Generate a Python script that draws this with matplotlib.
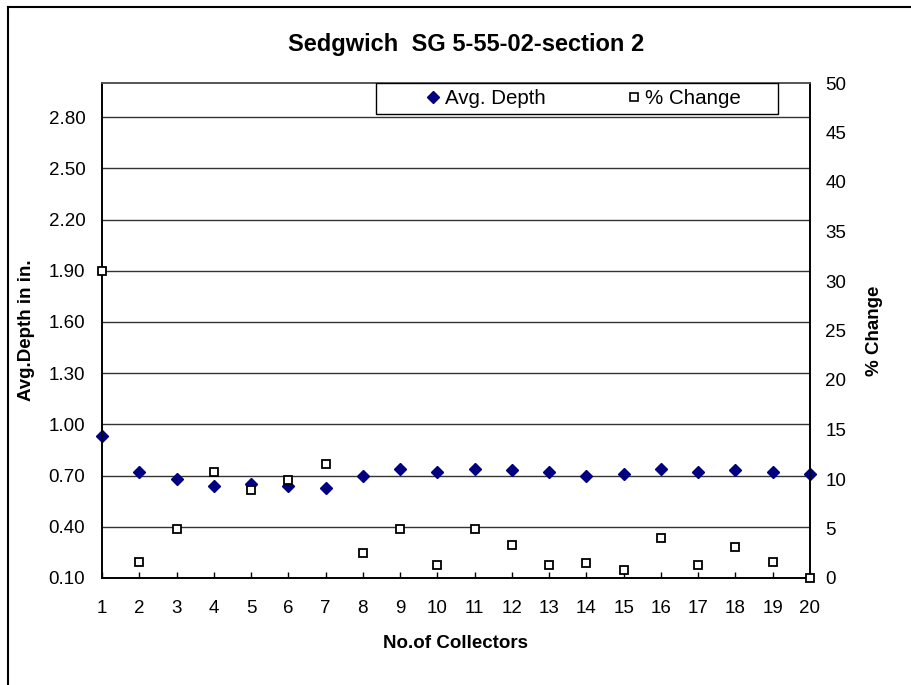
import numpy as np
import matplotlib
matplotlib.use("Agg")
import matplotlib.pyplot as plt
from matplotlib.lines import Line2D
from matplotlib.patches import Rectangle

plt.rcParams['font.family'] = ['Liberation Sans', 'DejaVu Sans']

# data
collectors = list(range(1, 21))
avg_depth = [0.93, 0.72, 0.68, 0.64, 0.65, 0.64, 0.63, 0.70, 0.74, 0.72,
             0.74, 0.73, 0.72, 0.70, 0.71, 0.74, 0.72, 0.73, 0.72, 0.71]
pct_change = [31.0, 1.6, 5.0, 10.7, 8.9, 9.9, 11.5, 2.5, 5.0, 1.3,
              5.0, 3.3, 1.3, 1.5, 0.8, 4.0, 1.3, 3.1, 1.6, 0.0]
left_ticks = [0.10, 0.40, 0.70, 1.00, 1.30, 1.60, 1.90, 2.20, 2.50, 2.80]
right_ticks = [0, 5, 10, 15, 20, 25, 30, 35, 40, 45, 50]

title = "Sedgwich  SG 5-55-02-section 2"

W, H = 912, 685
fig = plt.figure(figsize=(W / 100, H / 100), dpi=100)

# plot area in pixels: left 102, right 810, top 83, bottom 578
ax = fig.add_axes([102 / W, (H - 578) / H, (810 - 102) / W, (578 - 83) / H])
ax2 = ax.twinx()

fs = 13.5

# avg depth (left axis)
ax.plot(collectors, avg_depth, linestyle='none', marker='D', markersize=6,
        color='#000080', clip_on=False, zorder=3)
ax.set_xlim(1, 20)
ax.set_ylim(0.10, 3.00)
ax.set_yticks(left_ticks)
ax.set_yticklabels([f"{v:.2f}" for v in left_ticks], fontsize=fs)
ax.set_xticks(collectors)
ax.set_xticklabels([str(c) for c in collectors], fontsize=fs)
ax.yaxis.grid(True, color='#333333', linewidth=1.0)
ax.set_axisbelow(True)
ax.tick_params(axis='y', length=0, pad=12)
ax.tick_params(axis='x', direction='in', length=4.5, width=1, pad=16)
for s in ['left', 'bottom', 'right', 'top']:
    ax.spines[s].set_linewidth(1.2)
ax.spines['top'].set_color('#555555')

# % change (right axis)
ax2.plot(collectors, pct_change, linestyle='none', marker='s', markersize=6,
         markerfacecolor='white', markeredgecolor='black', markeredgewidth=1.3,
         clip_on=False, zorder=3)
ax2.set_ylim(0, 50)
ax2.set_yticks(right_ticks)
ax2.set_yticklabels([str(v) for v in right_ticks], fontsize=fs)
ax2.tick_params(axis='y', length=0, pad=11)
for s in ['left', 'bottom', 'right', 'top']:
    ax2.spines[s].set_linewidth(1.2)
ax2.spines['top'].set_color('#555555')

ax.set_xlabel("No.of Collectors", fontsize=fs, fontweight='bold', labelpad=13)
ax.set_ylabel("Avg.Depth in in.", fontsize=fs, fontweight='bold', labelpad=10)
ax2.set_ylabel("% Change", fontsize=fs, fontweight='bold', labelpad=14)
fig.text(466 / W, 1 - 45 / H, title, fontsize=17, fontweight='bold',
         ha='center', va='center')

# legend box
box = Rectangle((0.387, 0.937), 0.568, 0.063, transform=ax2.transAxes,
                facecolor='white', edgecolor='black', linewidth=1.0, zorder=4)
ax2.add_patch(box)
handles = [
    Line2D([], [], linestyle='none', marker='D', markersize=6, color='#000080'),
    Line2D([], [], linestyle='none', marker='s', markersize=5.5,
           markerfacecolor='white', markeredgecolor='black', markeredgewidth=1.2),
]
leg = ax2.legend(handles, ["Avg. Depth", "% Change"], ncol=2, frameon=False,
                 loc='center', bbox_to_anchor=(0.681, 0.9685), fontsize=14.8,
                 handlelength=0.6, handletextpad=0.25, columnspacing=4.0,
                 borderpad=0, borderaxespad=0)
leg.set_zorder(5)

# outer chart frame (cropped on right and bottom)
fig.add_artist(Line2D([8 / W, 8 / W], [0, 1 - 7 / H], transform=fig.transFigure,
                      color='black', linewidth=1.5))
fig.add_artist(Line2D([8 / W, 1], [1 - 7 / H, 1 - 7 / H], transform=fig.transFigure,
                      color='black', linewidth=1.5))

fig.savefig("out.png", dpi=100)
